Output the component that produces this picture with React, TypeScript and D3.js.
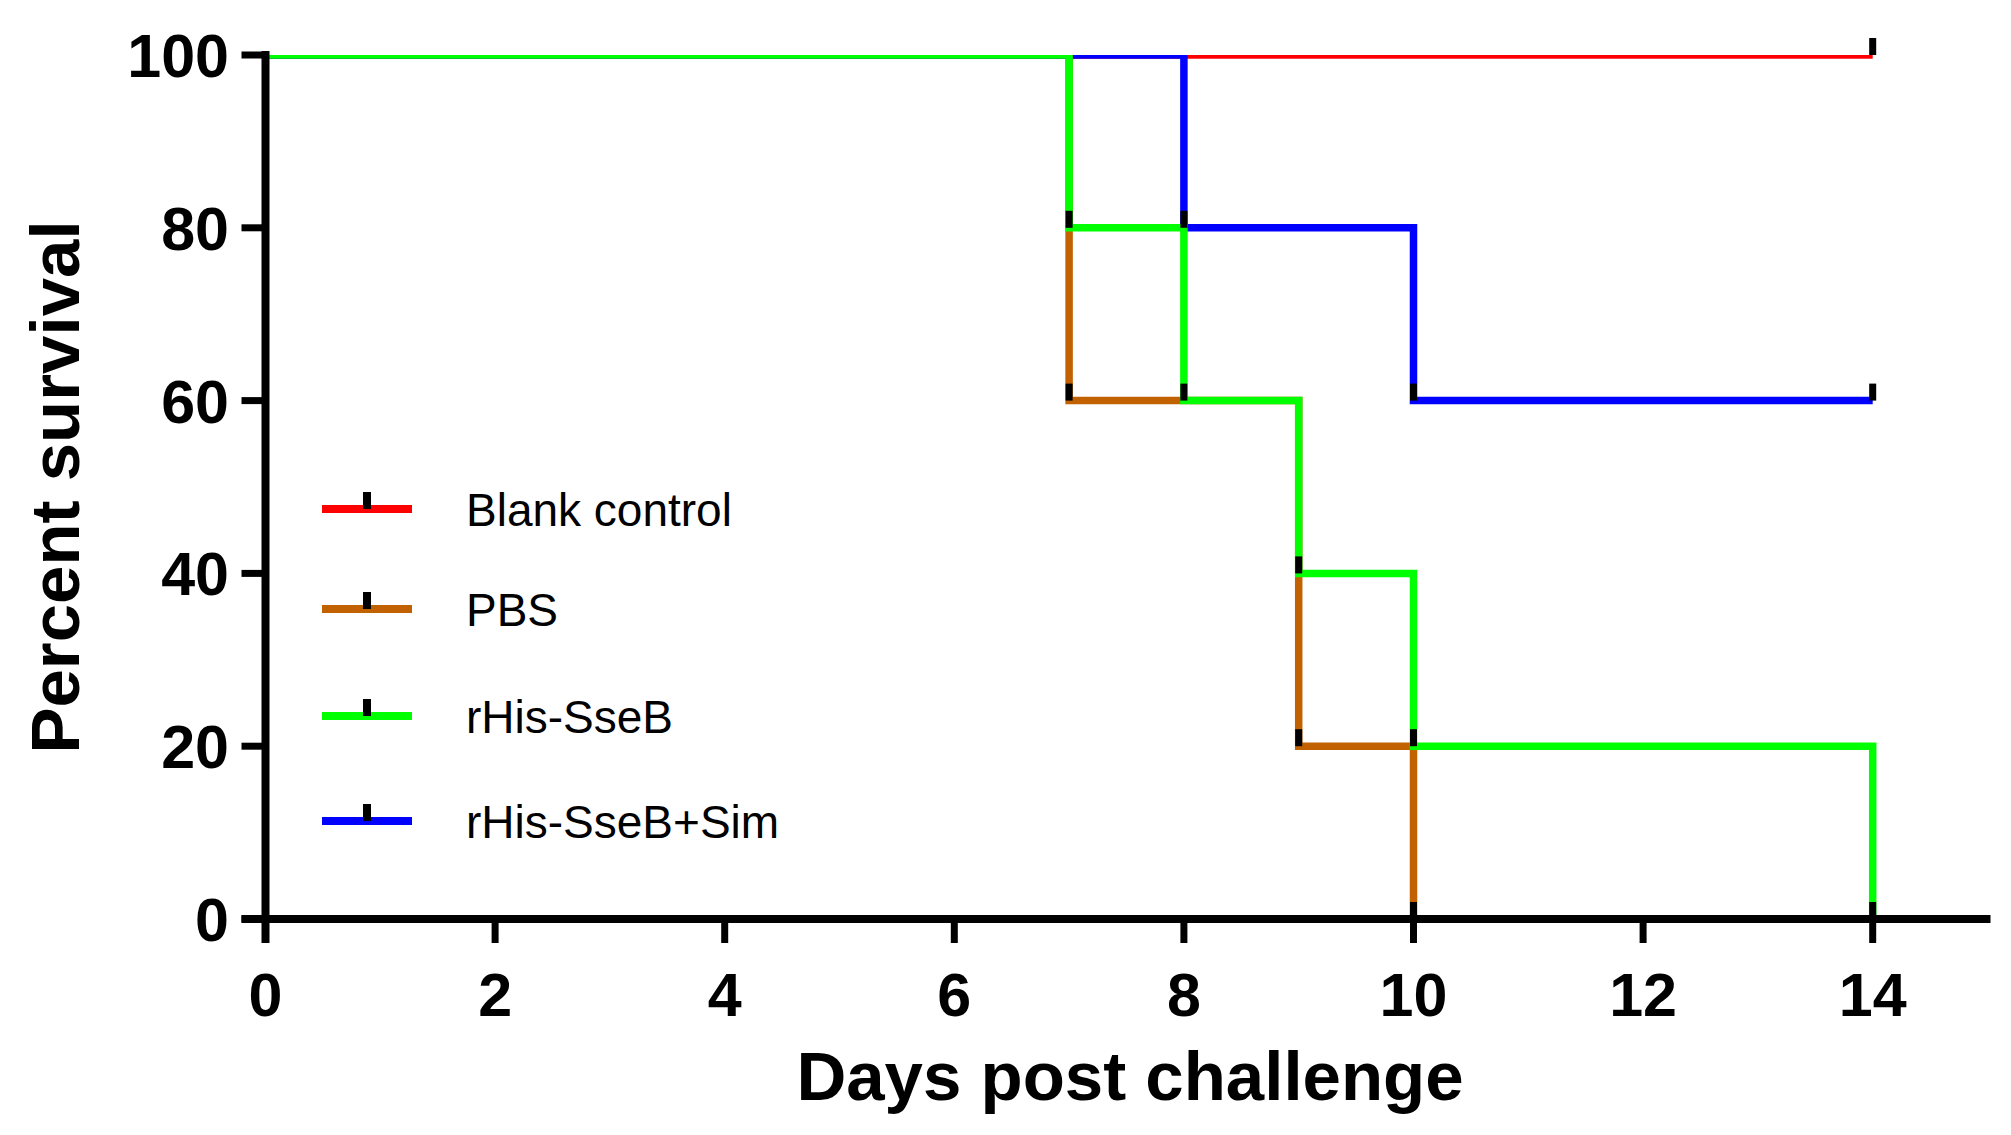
import React from "react";
import * as d3 from "d3";

const xTicks = [0, 2, 4, 6, 8, 10, 12, 14];
const yTicks = [0, 20, 40, 60, 80, 100];

const seriesNames = ["Blank control", "PBS", "rHis-SseB", "rHis-SseB+Sim"];
const seriesColors = ["#ff0000", "#c26100", "#00ff00", "#0000ff"];

const blankDays = [0, 14];
const blankSurv = [100, 100];
const pbsDays = [0, 7, 9, 10];
const pbsSurv = [100, 60, 20, 0];
const sseBDays = [0, 7, 8, 9, 10, 14];
const sseBSurv = [100, 80, 60, 40, 20, 0];
const simDays = [0, 8, 10, 14];
const simSurv = [100, 80, 60, 60];

const seriesDays = [blankDays, pbsDays, sseBDays, simDays];
const seriesSurv = [blankSurv, pbsSurv, sseBSurv, simSurv];
const drawOrder = [0, 1, 3, 2];

const W = 2011;
const H = 1135;
const x0 = 265.5;
const perDay = 114.8;
const yTop = 55;
const yBot = 919;

export default function App() {
  const x = d3.scaleLinear().domain([0, 15]).range([x0, x0 + 15 * perDay]);
  const y = d3.scaleLinear().domain([0, 100]).range([yBot, yTop]);
  const line = d3
    .line<[number, number]>()
    .x((d) => x(d[0]))
    .y((d) => y(d[1]))
    .curve(d3.curveStepAfter);

  const font = "'Liberation Sans', Arial, Helvetica, sans-serif";
  const legendY = [509, 609, 716, 821];

  return (
    <svg
      width={W}
      height={H}
      style={{ position: "absolute", left: 0, top: 0, background: "#fff" }}
      xmlns="http://www.w3.org/2000/svg"
    >
      <defs>
        <clipPath id="plotclip">
          <rect x={x(0)} y={yTop} width={W - x(0)} height={H - yTop} />
        </clipPath>
      </defs>
      <rect x={0} y={0} width={W} height={H} fill="#fff" />

      {/* series lines */}
      <g clipPath="url(#plotclip)">
        {drawOrder.map((i) => {
          const pts = seriesDays[i].map((d, j) => [d, seriesSurv[i][j]] as [number, number]);
          return (
            <path
              key={seriesNames[i]}
              d={line(pts) || ""}
              fill="none"
              stroke={seriesColors[i]}
              strokeWidth={7.5}
              strokeLinejoin="miter"
              strokeLinecap="butt"
            />
          );
        })}
      </g>

      {/* censor ticks */}
      {seriesNames.map((name, i) =>
        seriesDays[i].slice(1).map((d, j) => (
          <rect
            key={name + "-t" + j}
            x={x(d) - 3.5}
            y={y(seriesSurv[i][j + 1]) - 17}
            width={7}
            height={17}
            fill="#000"
          />
        ))
      )}

      {/* axes */}
      <line x1={x(0)} x2={x(0)} y1={yTop - 4} y2={yBot + 24} stroke="#000" strokeWidth={8} />
      <line x1={x(0) - 24} x2={x(15) + 3} y1={yBot} y2={yBot} stroke="#000" strokeWidth={8} />
      {yTicks.map((t) => (
        <g key={"y" + t}>
          <line x1={x(0) - 24} x2={x(0)} y1={y(t)} y2={y(t)} stroke="#000" strokeWidth={7} />
          <text
            x={229}
            y={y(t)}
            dy="0.36em"
            textAnchor="end"
            fontFamily={font}
            fontWeight="bold"
            fontSize={61}
            fill="#000"
          >
            {t}
          </text>
        </g>
      ))}
      {xTicks.map((t) => (
        <g key={"x" + t}>
          <line x1={x(t)} x2={x(t)} y1={yBot} y2={yBot + 24} stroke="#000" strokeWidth={7} />
          <text
            x={x(t)}
            y={1016}
            textAnchor="middle"
            fontFamily={font}
            fontWeight="bold"
            fontSize={61}
            fill="#000"
          >
            {t}
          </text>
        </g>
      ))}

      {/* axis titles */}
      <text
        x={1130}
        y={1100}
        textAnchor="middle"
        fontFamily={font}
        fontWeight="bold"
        fontSize={69}
        fill="#000"
      >
        Days post challenge
      </text>
      <text
        transform={`translate(79, ${(yTop + yBot) / 2}) rotate(-90)`}
        textAnchor="middle"
        fontFamily={font}
        fontWeight="bold"
        fontSize={69}
        fill="#000"
      >
        Percent survival
      </text>

      {/* legend */}
      {seriesNames.map((name, i) => (
        <g key={"lg" + name}>
          <line x1={322} x2={412} y1={legendY[i]} y2={legendY[i]} stroke={seriesColors[i]} strokeWidth={8} />
          <rect x={363} y={legendY[i] - 17} width={8} height={17} fill="#000" />
          <text
            x={466}
            y={legendY[i]}
            dy="0.36em"
            fontFamily={font}
            fontSize={46}
            fill="#000"
          >
            {name}
          </text>
        </g>
      ))}
    </svg>
  );
}
